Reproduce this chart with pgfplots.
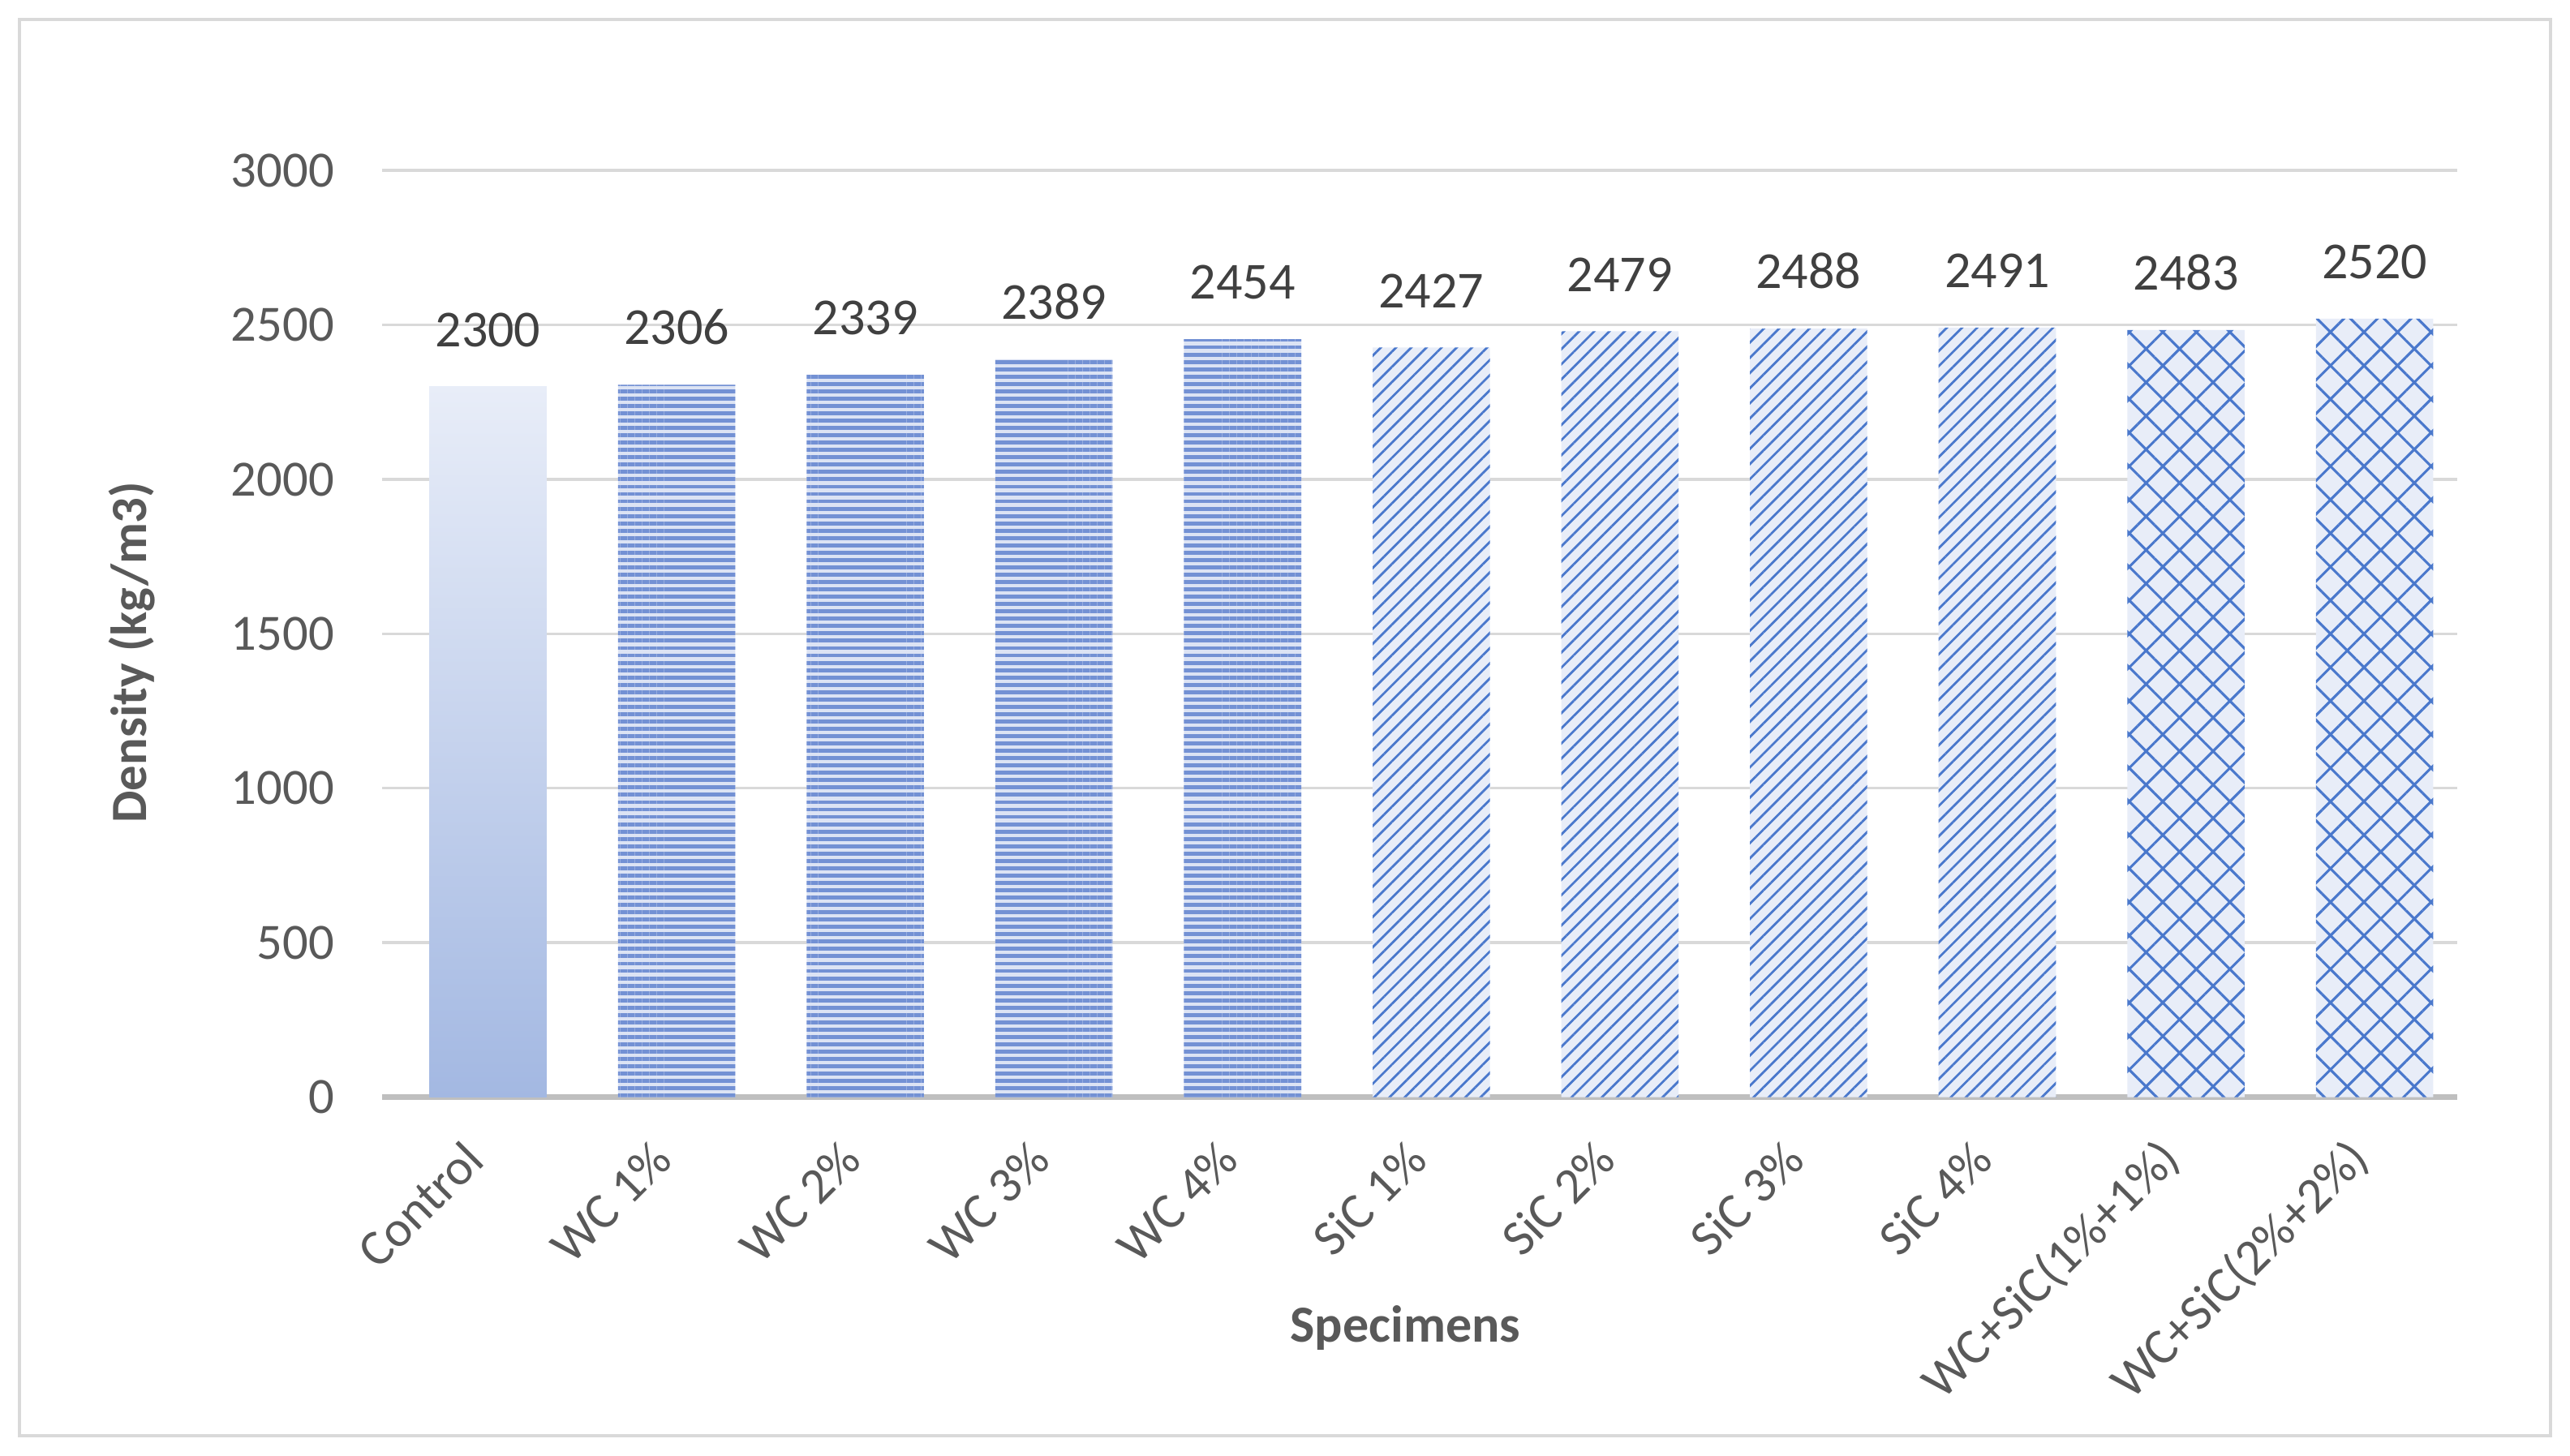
\documentclass[border=0pt]{standalone}
\usepackage{fontspec}
\setmainfont{Carlito}
\usepackage{pgfplots}
\pgfplotsset{compat=1.18}
\usetikzlibrary{patterns.meta}
\definecolor{txt}{HTML}{595959}
\definecolor{lbl}{HTML}{404040}
\definecolor{gridc}{HTML}{D9D9D9}
\definecolor{axc}{HTML}{BFBFBF}
\definecolor{pat}{HTML}{4A78CC}
\definecolor{wcbg}{HTML}{DCE3F4}
\definecolor{wcl}{HTML}{7391D4}
\definecolor{lightbg}{HTML}{E8EDF8}
\begin{document}
\begin{tikzpicture}
\fill[white] (0,0) rectangle (16cm,9.061cm);
\draw[gridc, line width=0.6pt] (0.12cm,0.12cm) rectangle (15.88cm,8.94cm);
\begin{axis}[
  at={(2.38cm,2.23cm)}, anchor=south west,
  scale only axis, width=12.92cm, height=5.77cm,
  ybar, bar width=0.73cm, bar shift=0pt,
  xmin=-0.56, xmax=10.44, ymin=0, ymax=3000,
  ytick={0,500,...,3000},
  xtick={0,...,10},
  xticklabels={Control, WC 1\%, WC 2\%, WC 3\%, WC 4\%, SiC 1\%, SiC 2\%, SiC 3\%, SiC 4\%, WC+SiC(1\%+1\%), WC+SiC(2\%+2\%)},
  axis x line*=bottom, axis y line*=left,
  x axis line style={axc, line width=1.1pt},
  y axis line style={draw=none},
  tick style={draw=none}, major tick length=0pt,
  ymajorgrids, grid style={gridc, line width=0.5pt},
  /pgf/number format/1000 sep={},
  /pgf/number format/assume math mode=true,
  font=\fontsize{9}{11}\selectfont,
  ticklabel style={font=\fontsize{9}{11}\selectfont, text=txt},
  yticklabel shift=5pt,
  xticklabel style={rotate=45, anchor=east},
  xticklabel shift=7pt,
  nodes near coords,
  every node near coord/.append style={font=\fontsize{9.2}{11}\selectfont, text=lbl, yshift=3.5pt},
  ylabel={\bfseries Density (kg/m3)},
  xlabel={\bfseries Specimens},
  every axis y label/.style={at={(axis description cs:-0.1207,0.48)}, rotate=90, anchor=center, text=txt, font=\fontsize{9}{11}\selectfont},
  every axis x label/.style={at={(axis description cs:0.493,-0.249)}, anchor=center, text=txt, font=\fontsize{9.2}{11}\selectfont},
]
\addplot[draw=none, top color=lightbg, bottom color={rgb,255:red,163;green,184;blue,226}] coordinates {(0,2300)};
\addplot[draw=none, fill=wcbg, postaction={pattern={Lines[angle=0,distance=1.3pt,line width=0.7pt]}, pattern color=wcl}] coordinates {(1,2306) (2,2339) (3,2389) (4,2454)};
\addplot[draw=none, fill=lightbg, postaction={pattern={Lines[angle=45,distance=1.9pt,line width=0.4pt]}, pattern color=pat}] coordinates {(5,2427) (6,2479) (7,2488) (8,2491)};
\addplot[draw=none, fill=lightbg, postaction={pattern={Hatch[angle=45,distance=4.2pt,line width=0.45pt]}, pattern color=pat}] coordinates {(9,2483) (10,2520)};
\end{axis}
\end{tikzpicture}
\end{document}
